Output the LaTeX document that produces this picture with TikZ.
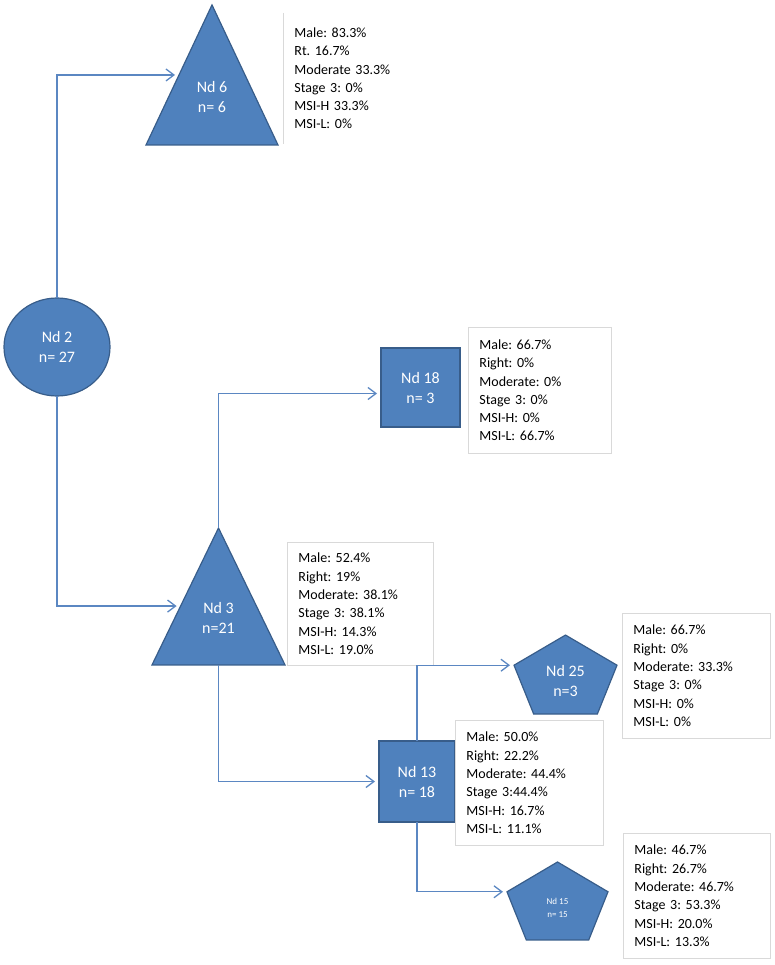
\documentclass[tikz,border=0pt]{standalone}
\usepackage{fontspec}
\setmainfont{Carlito}
\usetikzlibrary{shapes.geometric,arrows.meta,calc}
\definecolor{ndfill}{HTML}{4F81BD}
\definecolor{ndline}{HTML}{385D8A}
\definecolor{linkblue}{HTML}{5B87C2}
\definecolor{boxgray}{HTML}{D9D9D9}
\frenchspacing

\begin{document}
\begin{tikzpicture}[x=1pt, y=-1pt,
    nd/.style={fill=ndfill, draw=ndline, line width=1.2pt, text=white, inner sep=0pt, outer sep=0pt, align=center, font=\fontsize{16}{20}\selectfont},
    tri/.style={nd, regular polygon, regular polygon sides=3, transform shape},
    pent/.style={nd, regular polygon, regular polygon sides=5, transform shape},
    ndtext/.style={text=white, align=center, font=\fontsize{16}{20}\selectfont},
    info/.style={draw=boxgray, line width=0.8pt, anchor=north west, align=left, inner xsep=11pt, inner ysep=0pt, font=\fontsize{14}{18.3}\selectfont},
    link/.style={draw=linkblue, line width=1.3pt, -{Straight Barb[length=8pt,width=12pt]}, shorten >=4pt}]

    \useasboundingbox (0,0) rectangle (775,965);

    % Node 2
    \node[nd, ellipse, minimum width=106pt, minimum height=98pt] (nd2) at (57,347) {Nd 2\\n= 27};

    % Node 6
    \begin{scope}[shift={(212,98.3)}, yscale=1.225]
        \node[tri, minimum size=152.4pt] (nd6) at (0,0) {};
    \end{scope}
    \node[ndtext] (nd6txt) at (212,97) {Nd 6\\n= 6};
    \node[info, draw=none, minimum width=120pt, text width=98pt, minimum height=130pt] (box6) at (283,13)
        {Male: 83.3\%\\Rt. 16.7\%\\Moderate 33.3\%\\Stage 3: 0\%\\MSI-H 33.3\%\\MSI-L: 0\%};
    \draw[boxgray, line width=0.8pt] (box6.north west) -- (box6.south west);

    % Node 3
    \begin{scope}[shift={(218.5,619.3)}, yscale=1.189]
        \node[tri, minimum size=153.6pt] (nd3) at (0,0) {};
    \end{scope}
    \node[ndtext] (nd3txt) at (218.5,618) {Nd 3\\n=21};
    \node[info, minimum width=146pt, text width=124pt, minimum height=123pt] (box3) at (287,542)
        {Male: 52.4\%\\Right: 19\%\\Moderate: 38.1\%\\Stage 3: 38.1\%\\MSI-H: 14.3\%\\MSI-L: 19.0\%};

    % Node 18
    \node[nd, minimum width=79pt, minimum height=79pt] (nd18) at (420.5,387.5) {Nd 18\\n= 3};
    \node[info, minimum width=143pt, text width=121pt, minimum height=126pt] (box18) at (468,327)
        {Male: 66.7\%\\Right: 0\%\\Moderate: 0\%\\Stage 3: 0\%\\MSI-H: 0\%\\MSI-L: 66.7\%};

    % Node 13
    \node[nd, minimum width=76pt, minimum height=81pt] (nd13) at (417,781.5) {Nd 13\\n= 18};
    \node[info, minimum width=148pt, text width=126pt, minimum height=125pt] (box13) at (455,720)
        {Male: 50.0\%\\Right: 22.2\%\\Moderate: 44.4\%\\Stage 3:44.4\%\\MSI-H: 16.7\%\\MSI-L: 11.1\%};

    % Node 25
    \begin{scope}[shift={(565.5,678.7)}, yscale=0.806]
        \node[pent, minimum size=108.3pt] (nd25) at (0,0) {};
    \end{scope}
    \node[ndtext] (nd25txt) at (565.5,680.5) {Nd 25\\n=3};
    \node[info, minimum width=148pt, text width=126pt, minimum height=125pt] (box25) at (622,613)
        {Male: 66.7\%\\Right: 0\%\\Moderate: 33.3\%\\Stage 3: 0\%\\MSI-H: 0\%\\MSI-L: 0\%};

    % Node 15
    \begin{scope}[shift={(557.5,905.1)}, yscale=0.812]
        \node[pent, minimum size=106.2pt] (nd15) at (0,0) {};
    \end{scope}
    \node[ndtext, font=\fontsize{9}{13}\selectfont] (nd15txt) at (557.5,908) {Nd 15\\n= 15};
    \node[info, minimum width=147pt, text width=125pt, minimum height=125pt] (box15) at (623,833)
        {Male: 46.7\%\\Right: 26.7\%\\Moderate: 46.7\%\\Stage 3: 53.3\%\\MSI-H: 20.0\%\\MSI-L: 13.3\%};

    % Splits
    \draw[link] (nd2.north) |- (nd6.side 1);
    \draw[link] (nd2.south) |- ($(nd3.corner 1)!0.57!(nd3.corner 2)$);
    \draw[link] (nd3.corner 1) |- ($(nd18.west)+(0,6)$);
    \draw[link] (nd3.side 2) |- (nd13.west);
    \draw[link] (nd13.north) |- (nd25.corner 2);
    \draw[link] (nd13.south) |- (nd15.corner 2);
\end{tikzpicture}
\end{document}
